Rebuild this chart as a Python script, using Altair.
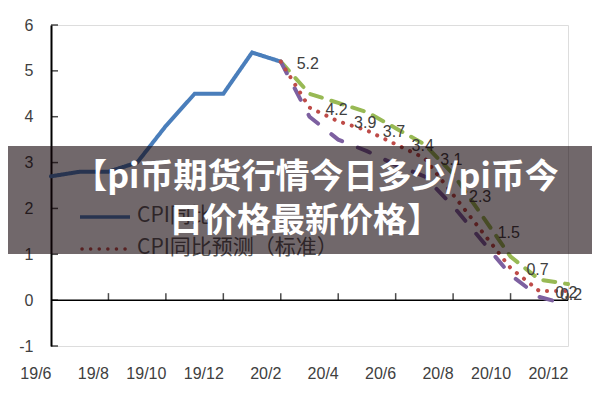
import altair as alt
import pandas as pd

# ---- data ----
months = ["19/6", "19/7", "19/8", "19/9", "19/10", "19/11", "19/12", "20/1", "20/2",
          "20/3", "20/4", "20/5", "20/6", "20/7", "20/8", "20/9", "20/10", "20/11", "20/12"]
tick_months = ["19/6", "19/8", "19/10", "19/12", "20/2", "20/4", "20/6", "20/8", "20/10", "20/12"]

actual_months = months[0:9]
cpi_actual = [2.7, 2.8, 2.8, 3.0, 3.8, 4.5, 4.5, 5.4, 5.2]

fc_months = months[8:19]
cpi_base = [5.2, 4.2, 3.9, 3.7, 3.4, 3.1, 2.3, 1.5, 0.7, 0.2, 0.2]
cpi_high = [5.2, 4.5, 4.3, 4.1, 3.75, 3.4, 2.75, 1.85, 0.95, 0.45, 0.35]
cpi_low = [5.2, 4.0, 3.5, 3.25, 2.95, 2.7, 2.05, 1.3, 0.55, 0.07, -0.1]

series_names = ["CPI同比", "CPI同比预测（标准）", "CPI同比预测（悲观）", "CPI同比预测（乐观）"]
series_colors = ["#4A7EBB", "#BE4B48", "#98B954", "#7D60A0"]
series_dash = [[1, 0], [0.1, 9], [12, 10], [13, 17]]
y_ticks = [-1, 0, 1, 2, 3, 4, 5, 6]

banner_lines = ["【pi币期货行情今日多少/pi币今", "日价格最新价格】"]

# ---- tables ----
rows = []
for name, m_list, vals in [(series_names[0], actual_months, cpi_actual),
                           (series_names[2], fc_months, cpi_high),
                           (series_names[3], fc_months, cpi_low),
                           (series_names[1], fc_months, cpi_base)]:
    for m, v in zip(m_list, vals):
        rows.append({"series": name, "month": m, "value": v})
df = pd.DataFrame(rows)

df_lab = pd.DataFrame({"month": fc_months, "value": cpi_base,
                       "text": [f"{v:.1f}" for v in cpi_base]})
df_lab_main = df_lab.iloc[:-1]
df_lab_last = df_lab.iloc[-1:]

df_yt = pd.DataFrame({"value": y_ticks})
df_xt = pd.DataFrame({"month": tick_months[1:]})
df_one = pd.DataFrame({"k": [0]})

FONT = "Liberation Sans"
x_scale = alt.Scale(type="point", domain=months, padding=0)
y_scale = alt.Scale(domain=[-1, 6], nice=False, zero=False)

X = alt.X("month:N", scale=x_scale, sort=months,
          axis=alt.Axis(values=tick_months, labelAngle=0, domain=False, ticks=False,
                        labelPadding=27, labelFontSize=16, labelColor="#404040",
                        labelFont=FONT, title=None, grid=False))
Y = alt.Y("value:Q", scale=y_scale,
          axis=alt.Axis(values=y_ticks, grid=False, ticks=False, domainColor="black",
                        domainWidth=2, labelPadding=18, labelFontSize=16,
                        labelColor="#404040", labelFont=FONT, title=None,
                        labelExpr="'' + datum.value"))

lines = alt.Chart(df).mark_line(strokeWidth=4, strokeCap="round").encode(
    x=X, y=Y,
    color=alt.Color("series:N", scale=alt.Scale(domain=series_names, range=series_colors),
                    legend=None),
    strokeDash=alt.StrokeDash("series:N",
                              scale=alt.Scale(domain=series_names, range=series_dash),
                              legend=None),
)

zero_line = alt.Chart(df_one).mark_rule(color="black", strokeWidth=1.5).encode(y=alt.datum(0))

y_tick_marks = alt.Chart(df_yt).mark_tick(orient="horizontal", size=7, thickness=1.5,
                                          color="black").encode(
    y=alt.Y("value:Q", scale=y_scale), x=alt.value(3.5))

x_tick_marks = alt.Chart(df_xt).mark_tick(orient="vertical", size=7, thickness=1.5,
                                          color="black", yOffset=-3.5).encode(
    x=alt.X("month:N", scale=x_scale, sort=months), y=alt.datum(0))

labels = alt.Chart(df_lab_main).mark_text(fontSize=16, font=FONT, color="#404040",
                                          dx=27, dy=2).encode(
    x=alt.X("month:N", scale=x_scale, sort=months),
    y=alt.Y("value:Q", scale=y_scale), text="text:N")
labels_last = alt.Chart(df_lab_last).mark_text(fontSize=16, font=FONT, color="#404040",
                                               dx=3, dy=4).encode(
    x=alt.X("month:N", scale=x_scale, sort=months),
    y=alt.Y("value:Q", scale=y_scale), text="text:N")

# ---- legend (two visible entries) ----
leg_blue = alt.Chart(df_one).mark_rule(color=series_colors[0], strokeWidth=3.5).encode(
    x=alt.value(29), x2=alt.value(79), y=alt.value(192))
leg_red = alt.Chart(df_one).mark_rule(color=series_colors[1], strokeWidth=3.5,
                                      strokeDash=[0.1, 8.5], strokeCap="round").encode(
    x=alt.value(31), x2=alt.value(79), y=alt.value(224))
leg_t1 = alt.Chart(df_one).mark_text(fontSize=21, font="Noto Sans CJK SC", color="#595959",
                                     align="left", baseline="middle").encode(
    x=alt.value(86), y=alt.value(191), text=alt.value(series_names[0]))
leg_t2 = alt.Chart(df_one).mark_text(fontSize=21, font="Noto Sans CJK SC", color="#595959",
                                     align="left", baseline="middle").encode(
    x=alt.value(86), y=alt.value(223), text=alt.value(series_names[1]))

# ---- overlay banner ----
banner = alt.Chart(df_one).mark_rect(fill="#120309", fillOpacity=0.6).encode(
    x=alt.value(-43), x2=alt.value(541), y=alt.value(121), y2=alt.value(229))
ban_t1 = alt.Chart(df_one).mark_text(fontSize=34, fontWeight="bold", color="white",
                                     font="Noto Sans CJK SC", align="center",
                                     baseline="middle").encode(
    x=alt.value(265), y=alt.value(153), text=alt.value(banner_lines[0]))
ban_t2 = alt.Chart(df_one).mark_text(fontSize=34, fontWeight="bold", color="white",
                                     font="Noto Sans CJK SC", align="center",
                                     baseline="middle").encode(
    x=alt.value(254), y=alt.value(197), text=alt.value(banner_lines[1]))

chart = alt.layer(
    zero_line, y_tick_marks, x_tick_marks, lines, labels, labels_last,
    leg_blue, leg_red, leg_t1, leg_t2, banner, ban_t1, ban_t2
).properties(
    width=517, height=321,
    padding={"left": 43, "top": 17, "right": 24, "bottom": 42},
    autosize=alt.AutoSizeParams(type="none"),
).configure_view(stroke=None).configure(background="white")

chart.save("out.html", embed_options={"renderer": "svg", "actions": False})
